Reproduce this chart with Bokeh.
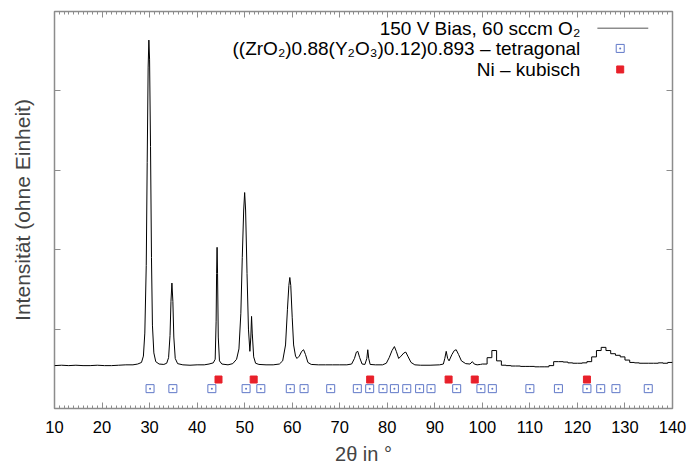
from bokeh.plotting import figure
from bokeh.models import Range1d, LinearAxis, SingleIntervalTicker, FixedTicker, Label
from bokeh.embed import file_html
from bokeh.resources import INLINE

# fine-step scan (2theta in degrees, intensity arbitrary units)
two_theta = [10.0, 11.5, 13.0, 14.5, 16.0, 17.5, 19.0, 20.5, 22.0, 23.5, 25.0, 26.5, 27.5, 28.3, 28.7,
             29.0, 29.3, 29.5, 29.7, 29.85, 30.0, 30.2, 30.4, 30.6, 30.9, 31.3, 32.0, 33.0, 33.6, 34.0,
             34.3, 34.5, 34.7, 34.9, 35.1, 35.4, 35.9, 37.0, 38.5, 40.0, 41.5, 42.5, 43.4, 43.8, 44.0,
             44.1, 44.2, 44.3, 44.45, 44.7, 45.2, 46.5, 47.5, 48.3, 48.8, 49.2, 49.5, 49.8, 50.0, 50.2,
             50.5, 50.8, 51.1, 51.3, 51.45, 51.6, 51.9, 52.3, 53.0, 54.5, 56.0, 57.3, 58.0, 58.6, 59.0,
             59.3, 59.5, 59.7, 60.0, 60.3, 60.7, 61.0, 61.5, 62.0, 62.4, 62.8, 63.3, 64.0, 65.5, 67.0,
             68.5, 70.0, 71.5, 72.5, 73.1, 73.5, 73.8, 74.2, 74.7, 75.3, 75.7, 75.9, 76.1, 76.4, 77.5,
             79.0, 79.8, 80.4, 81.0, 81.5, 81.9, 82.4, 82.9, 83.5, 83.9, 84.4, 85.0, 85.8, 87.0, 89.0,
             91.0, 91.8, 92.1, 92.4, 92.7, 93.0, 93.6, 94.1, 94.5, 95.0, 95.6, 96.5, 97.4, 97.9, 98.3,
             98.9, 99.6, 100.0]
intensity = [0.54, 0.545, 0.54, 0.545, 0.54, 0.54, 0.545, 0.54, 0.54, 0.545, 0.55, 0.55, 0.56, 0.58, 0.66,
             0.95, 1.8, 3.1, 4.3, 4.64, 4.4, 3.3, 1.9, 1.05, 0.70, 0.59, 0.56, 0.555, 0.57, 0.64,
             0.92, 1.35, 1.58, 1.35, 0.90, 0.63, 0.565, 0.55, 0.545, 0.55, 0.55, 0.56, 0.575, 0.62, 1.1,
             1.7, 2.03, 1.7, 0.9, 0.60, 0.56, 0.55, 0.565, 0.62, 0.75, 1.2, 1.9, 2.5, 2.72, 2.5,
             1.7, 1.0, 0.72, 0.9, 1.16, 0.95, 0.65, 0.57, 0.555, 0.55, 0.55, 0.56, 0.60, 0.80, 1.25,
             1.55, 1.65, 1.55, 1.15, 0.80, 0.66, 0.63, 0.66, 0.72, 0.74, 0.68, 0.58, 0.555, 0.55, 0.55,
             0.55, 0.55, 0.55, 0.56, 0.63, 0.71, 0.72, 0.64, 0.56, 0.555, 0.63, 0.74, 0.63, 0.555, 0.55,
             0.55, 0.57, 0.64, 0.73, 0.78, 0.72, 0.63, 0.66, 0.70, 0.71, 0.65, 0.58, 0.55, 0.545, 0.545,
             0.55, 0.56, 0.63, 0.72, 0.63, 0.60, 0.68, 0.73, 0.74, 0.68, 0.60, 0.565, 0.56, 0.59, 0.56,
             0.55, 0.555, 0.56]

# coarse-step part of the scan (drawn as steps)
two_theta_coarse = [100, 101, 102, 103, 104, 105, 106, 107, 108, 109, 110, 111, 112, 113, 114, 115, 116,
                    117, 118, 119, 120, 121, 122, 123, 124, 125, 126, 127, 128, 129, 130, 131, 132, 133,
                    134, 135, 136, 137, 138, 139, 140]
intensity_coarse = [0.56, 0.64, 0.73, 0.60, 0.545, 0.54, 0.535, 0.535, 0.53, 0.53, 0.53, 0.525, 0.525,
                    0.525, 0.54, 0.59, 0.59, 0.585, 0.575, 0.57, 0.57, 0.575, 0.59, 0.65, 0.73, 0.77,
                    0.73, 0.69, 0.67, 0.65, 0.61, 0.58, 0.575, 0.57, 0.57, 0.57, 0.57, 0.575, 0.57,
                    0.58, 0.58]

# reference reflections
tetragonal_pos = [30.1, 34.9, 43.1, 50.3, 53.4, 59.6, 62.5, 68.1, 73.7, 76.3, 79.1, 81.5, 84.1, 86.8,
                  89.2, 94.6, 99.7, 102.1, 110.0, 116.0, 122.0, 124.9, 128.1, 134.9]
nickel_pos = [44.5, 51.9, 76.4, 92.9, 98.4, 122.0]
tetragonal_level = 0.25
nickel_level = 0.365

series_labels = ["150 V Bias, 60 sccm O\u2082",
                 "((ZrO\u2082)0.88(Y\u2082O\u2083)0.12)0.893 \u2013 tetragonal",
                 "Ni \u2013 kubisch"]

FONT = "Liberation Sans"
AXIS_COLOR = "#8c8c8c"
BLUE = "#6078c8"
RED = "#e8202a"

p = figure(frame_width=618, frame_height=397, x_range=Range1d(10, 140), y_range=Range1d(0, 5),
           output_backend="svg", toolbar_location=None,
           x_axis_location=None, y_axis_location=None,
           min_border_left=54, min_border_right=22, min_border_top=11, min_border_bottom=62)
p.xgrid.grid_line_color = None
p.ygrid.grid_line_color = None
p.outline_line_color = AXIS_COLOR
p.outline_line_width = 1.5
p.background_fill_color = "white"
p.border_fill_color = "white"

xt = SingleIntervalTicker(interval=10, num_minor_ticks=10)
yt = FixedTicker(ticks=[0, 1, 2, 3, 4, 5], minor_ticks=[])


def style_axis(ax, labels):
    ax.axis_line_color = None
    ax.major_tick_line_color = AXIS_COLOR
    ax.minor_tick_line_color = AXIS_COLOR
    ax.major_tick_line_width = 1
    ax.minor_tick_line_width = 1
    ax.major_tick_in = 6
    ax.major_tick_out = 0
    ax.minor_tick_in = 3
    ax.minor_tick_out = 0
    if labels:
        ax.major_label_text_font = FONT
        ax.major_label_text_font_size = "16.5px"
        ax.major_label_text_color = "black"
        ax.major_label_standoff = 12
    else:
        ax.major_label_text_font_size = "0px"
        ax.major_label_text_color = None
        ax.major_label_standoff = 0


bottom = LinearAxis(ticker=xt, axis_label="2\u03b8 in \u00b0")
style_axis(bottom, True)
bottom.axis_label_text_font = FONT
bottom.axis_label_text_font_size = "20px"
bottom.axis_label_text_font_style = "normal"
bottom.axis_label_standoff = 7
p.add_layout(bottom, "below")

top = LinearAxis(ticker=xt)
style_axis(top, False)
p.add_layout(top, "above")

left = LinearAxis(ticker=yt, axis_label="Intensit\u00e4t (ohne Einheit)")
style_axis(left, False)
left.axis_label_text_font = FONT
left.axis_label_text_font_size = "21px"
left.axis_label_text_font_style = "normal"
left.axis_label_standoff = 21
p.add_layout(left, "left")

right = LinearAxis(ticker=yt)
style_axis(right, False)
p.add_layout(right, "right")

# diffractogram
p.line(two_theta, intensity, line_color="black", line_width=1)
p.step(two_theta_coarse, intensity_coarse, mode="after", line_color="black", line_width=1)

# reflection markers
p.scatter(tetragonal_pos, [tetragonal_level] * len(tetragonal_pos), marker="square_dot", size=8,
          line_color=BLUE, fill_color=None, line_width=1)
p.scatter(nickel_pos, [nickel_level] * len(nickel_pos), marker="square", size=7,
          line_color=RED, fill_color=RED)

# legend (text right-aligned, sample to the right)
leg_text_x = 120.6
leg_sample_x0, leg_sample_x1, leg_marker_x = 124.2, 134.9, 129.0
leg_rows_y = [4.79, 4.535, 4.27]
for txt, yy in zip(series_labels, leg_rows_y):
    p.add_layout(Label(x=leg_text_x, y=yy, text=txt, text_align="right", text_baseline="middle",
                       text_font=FONT, text_font_size="19px", text_color="black"))
p.line([leg_sample_x0, leg_sample_x1], [leg_rows_y[0]] * 2, line_color="#555555", line_width=1)
p.scatter([leg_marker_x], [leg_rows_y[1]], marker="square_dot", size=8, line_color=BLUE,
          fill_color=None, line_width=1)
p.scatter([leg_marker_x], [leg_rows_y[2]], marker="square", size=7, line_color=RED, fill_color=RED)

open("out.html", "w").write(file_html(p, INLINE))
